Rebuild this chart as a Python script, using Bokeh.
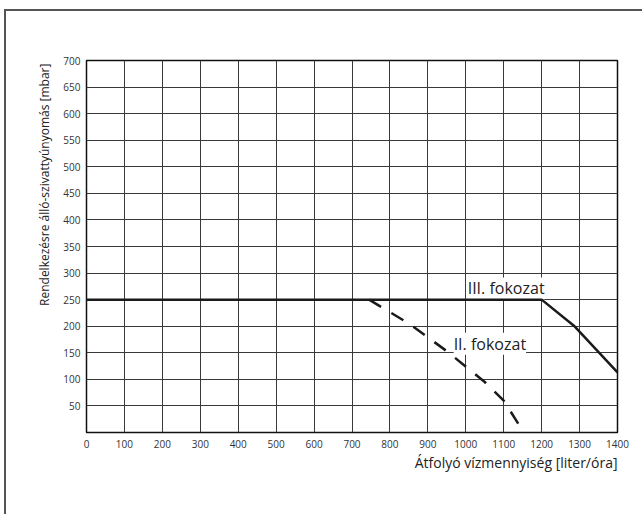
import math
from bokeh.plotting import figure
from bokeh.models import FixedTicker, Label, Range1d, Title
from bokeh.embed import file_html
from bokeh.resources import INLINE

# Data
x_ticks = [0, 100, 200, 300, 400, 500, 600, 700, 800, 900, 1000, 1100, 1200, 1300, 1400]
y_ticks = [50, 100, 150, 200, 250, 300, 350, 400, 450, 500, 550, 600, 650, 700]

stage3_flow = [0, 1200, 1285, 1400]
stage3_press = [250, 250, 201, 113]

stage2_flow = [745, 850, 950, 1050, 1100, 1153]
stage2_press = [250, 205, 153, 95, 60, 0]

stage3_label = "III. fokozat"
stage2_label = "II. fokozat"
x_title = "Átfolyó vízmennyiség [liter/óra]"
y_title = "Rendelkezésre álló-szivattyúnyomás  [mbar]"

FONT = "Open Sans"

p = figure(width=638, height=505, output_backend="svg", toolbar_location=None,
           x_range=Range1d(0, 1400), y_range=Range1d(0, 700),
           min_border_left=80, min_border_right=27, min_border_top=49, min_border_bottom=84)
p.styles = {"border-top": "2px solid #555555", "border-left": "2px solid #555555",
            "margin-left": "4px", "margin-top": "9px"}

p.outline_line_color = "#111111"
p.outline_line_width = 1.5
p.background_fill_color = "white"
p.border_fill_color = "white"

for ax in (p.xaxis[0], p.yaxis[0]):
    ax.axis_line_color = None
    ax.major_tick_line_color = None
    ax.minor_tick_line_color = None
    ax.major_tick_out = 0
    ax.major_tick_in = 0
    ax.minor_tick_out = 0
    ax.major_label_text_font = FONT
    ax.major_label_text_font_size = "10px"
    ax.major_label_text_color = "#333333"

p.xaxis.ticker = FixedTicker(ticks=x_ticks)
p.yaxis.ticker = FixedTicker(ticks=y_ticks)
p.xaxis.major_label_standoff = 7
p.yaxis.major_label_standoff = 6

p.xgrid.ticker = FixedTicker(ticks=x_ticks)
p.ygrid.ticker = FixedTicker(ticks=y_ticks)
for g in (p.xgrid[0], p.ygrid[0]):
    g.grid_line_color = "#3a3a3a"
    g.grid_line_width = 1
    g.grid_line_alpha = 1.0

p.add_layout(Label(x=1005, y=271, text=stage3_label, text_font=FONT, text_font_size="16px",
                   text_color="#222222", text_baseline="middle", text_align="left",
                   background_fill_color="white"))
p.add_layout(Label(x=968, y=167, text=stage2_label, text_font=FONT, text_font_size="16px",
                   text_color="#222222", text_baseline="middle", text_align="left",
                   background_fill_color="white"))

p.line(stage3_flow, stage3_press, line_color="#1a1a1a", line_width=2.5, level="overlay")
p.line(stage2_flow, stage2_press, line_color="#1a1a1a", line_width=2.5, line_dash="14 12",
       level="overlay")

p.add_layout(Title(text=x_title, align="right", text_font=FONT, text_font_size="14px",
                   text_color="#222222", text_font_style="normal", standoff=1), "below")
p.add_layout(Title(text=y_title, align="right", text_font=FONT, text_font_size="12px",
                   text_color="#222222", text_font_style="normal", standoff=15), "left")

open("out.html", "w").write(file_html(p, INLINE))
